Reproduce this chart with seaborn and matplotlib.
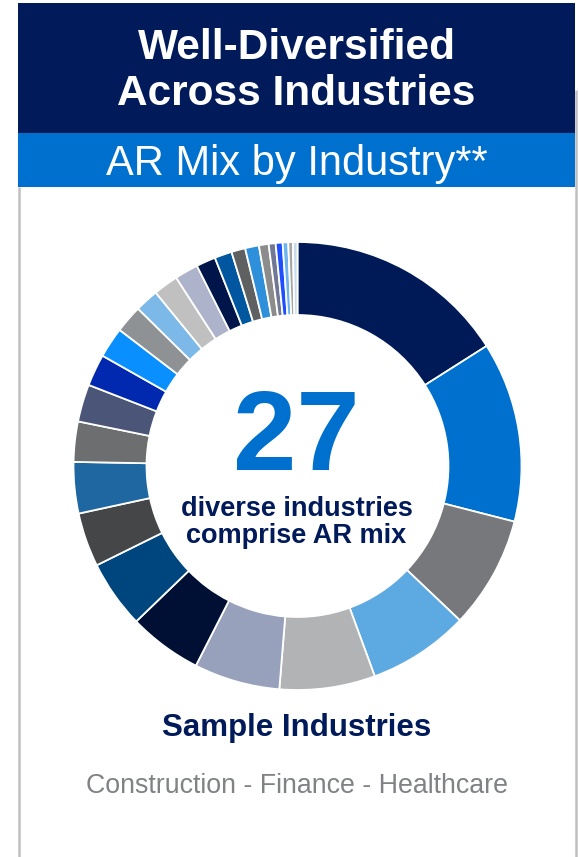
import matplotlib
matplotlib.use("Agg")
import matplotlib.pyplot as plt
from matplotlib.patches import Rectangle
import seaborn as sns

# AR mix shares by industry (percent), clockwise from 12 o'clock
industry_share = [16.0, 13.0, 8.1, 7.3, 6.9, 6.2, 5.3, 4.9, 3.9, 3.7,
                  2.9, 2.7, 2.3, 2.2, 2.0, 1.7, 1.8, 1.7, 1.4, 1.25,
                  1.0, 1.0, 0.7, 0.5, 0.5, 0.4, 0.33, 0.33]
slice_colors = ["#001957", "#0070CF", "#76787B", "#5DA9E1", "#B2B3B5",
                "#98A1BC", "#001035", "#00467E", "#454648", "#1F67A1",
                "#6D6E70", "#4A5578", "#0029B0", "#0A8FFF", "#8E9294",
                "#7DB9E8", "#C0C0C0", "#ADB3CB", "#00154A", "#0057A0",
                "#5F6062", "#2E8FDB", "#8C8C8C", "#707896", "#1D4FFF",
                "#6CB4F0", "#A6A6A6", "#C8DCF0"]

title_lines = ["Well-Diversified", "Across Industries"]
subtitle = "AR Mix by Industry**"
industry_count = "27"
center_caption = ["diverse industries", "comprise AR mix"]
sample_heading = "Sample Industries"
sample_list = "Construction - Finance - Healthcare"

NAVY = "#001A5A"
BLUE = "#0070CF"
GREY_TEXT = "#808285"
BORDER = "#C0C0C0"

sns.set_theme(style="white")
plt.rcParams["font.family"] = ["Liberation Sans", "DejaVu Sans"]

W, H = 579, 857
fig = plt.figure(figsize=(W / 100, H / 100), dpi=100)
fig.patch.set_facecolor("white")

# Pixel-space canvas for the panel frame and captions
bg = fig.add_axes([0, 0, 1, 1])
bg.set_xlim(0, W)
bg.set_ylim(H, 0)
bg.axis("off")

cx = 296.5
bg.add_patch(Rectangle((18, 3), 557, 130, facecolor=NAVY, edgecolor="none"))
bg.add_patch(Rectangle((18, 133), 557, 54, facecolor=BLUE, edgecolor="none"))
bg.plot([19, 19], [187, H], color=BORDER, lw=1.8, solid_capstyle="butt")
bg.plot([576, 576], [90, H], color=BORDER, lw=1.8, solid_capstyle="butt")

bg.text(cx, 59, title_lines[0], color="white", fontsize=30.5,
        fontweight="bold", ha="center", va="baseline")
bg.text(cx, 105, title_lines[1], color="white", fontsize=30.5,
        fontweight="bold", ha="center", va="baseline")
bg.text(cx, 175, subtitle, color="white", fontsize=30,
        ha="center", va="baseline")

bg.text(cx, 736, sample_heading, color=NAVY, fontsize=22.5,
        fontweight="bold", ha="center", va="baseline")
bg.text(cx, 793, sample_list, color=GREY_TEXT, fontsize=19.3,
        ha="center", va="baseline")

# Donut chart
R_px = 224
dcx, dcy = 297.5, 466
ax = fig.add_axes([(dcx - R_px) / W, 1 - (dcy + R_px) / H,
                   2 * R_px / W, 2 * R_px / H])
palette = sns.color_palette(slice_colors)
ax.pie(industry_share, colors=palette, startangle=90, counterclock=False,
       radius=1.0,
       wedgeprops=dict(width=0.326, edgecolor="white", linewidth=1.3))
ax.set_xlim(-1, 1)
ax.set_ylim(-1, 1)
ax.set_aspect("equal")
ax.axis("off")

bg.text(cx, 470, industry_count, color=BLUE, fontsize=82,
        fontweight="bold", ha="center", va="baseline", zorder=5)
bg.text(cx, 516, center_caption[0], color=NAVY, fontsize=19.5,
        fontweight="bold", ha="center", va="baseline", zorder=5)
bg.text(cx, 543, center_caption[1], color=NAVY, fontsize=19.5,
        fontweight="bold", ha="center", va="baseline", zorder=5)

fig.savefig("out.png", dpi=100, facecolor="white")
